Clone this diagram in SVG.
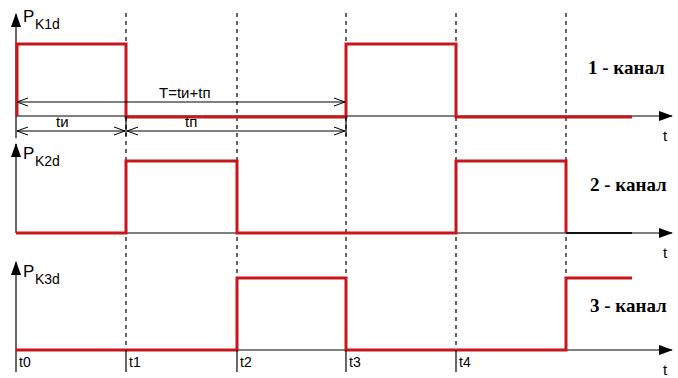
<svg xmlns="http://www.w3.org/2000/svg" width="678" height="378" viewBox="0 0 678 378">
  <defs>
    <marker id="axisHead" markerWidth="14" markerHeight="10" refX="13" refY="5" orient="auto" markerUnits="userSpaceOnUse">
      <path d="M0,0 L14,5 L0,10 Z" fill="#000"/>
    </marker>
    <marker id="openHead" markerWidth="12" markerHeight="10" refX="11" refY="5" orient="auto-start-reverse" markerUnits="userSpaceOnUse">
      <path d="M0,1 L11,5 L0,9" fill="none" stroke="#000" stroke-width="1"/>
    </marker>
  </defs>
  <style>
    .axis { stroke: #000; stroke-width: 1.2; fill: none; }
    .grid { stroke: #000; stroke-width: 1.2; stroke-dasharray: 4 4; fill: none; }
    .tick { stroke: #000; stroke-width: 1.2; }
    .dim { stroke: #000; stroke-width: 1; fill: none; }
    .sig { stroke: #c8161d; stroke-width: 3; fill: none; stroke-linejoin: miter; }
    .lbl { font-family: "Liberation Sans", Arial, sans-serif; font-size: 15px; fill: #000; }
    .p { font-family: "Liberation Sans", Arial, sans-serif; font-size: 17px; fill: #000; }
    .sub { font-family: "Liberation Sans", Arial, sans-serif; font-size: 14px; fill: #000; }
    .tl { font-family: "Liberation Sans", Arial, sans-serif; font-size: 14px; fill: #000; }
    .ch { font-family: "Liberation Serif", "Times New Roman", serif; font-size: 19px; font-weight: bold; fill: #000; }
  </style>

  <rect width="678" height="378" fill="#fff"/>

  <!-- time grid -->
  <g id="grid">
    <line class="grid" x1="126" y1="13" x2="126" y2="350"/>
    <line class="grid" x1="237" y1="13" x2="237" y2="350"/>
    <line class="grid" x1="346" y1="13" x2="346" y2="350"/>
    <line class="grid" x1="456" y1="13" x2="456" y2="350" stroke-dasharray="2 2"/>
    <line class="grid" x1="566" y1="13" x2="566" y2="350"/>
  </g>

  <!-- channel 1 -->
  <g id="channel1">
    <line class="axis" x1="16" y1="138" x2="16" y2="14" marker-end="url(#axisHead)"/>
    <line class="axis" x1="16" y1="116" x2="672" y2="116" marker-end="url(#axisHead)"/>
    <text class="p" x="23" y="22">P</text>
    <text class="sub" x="35" y="29">K1d</text>
    <polyline class="sig" points="17,116 17,44 126,44 126,117 346,117 346,44 456,44 456,117 632,117"/>
    <text class="lbl" x="663" y="141">t</text>
    <text class="ch" x="588" y="74">1 - канал</text>
  </g>

  <!-- channel 2 -->
  <g id="channel2">
    <line class="axis" x1="16" y1="233" x2="16" y2="144" marker-end="url(#axisHead)"/>
    <line class="axis" x1="16" y1="233" x2="672" y2="233" marker-end="url(#axisHead)"/>
    <text class="p" x="23" y="159">P</text>
    <text class="sub" x="35" y="166">K2d</text>
    <polyline class="sig" points="16,233 126,233 126,161 237,161 237,233 456,233 456,161 566,161 566,233"/>
    <line x1="566" y1="233" x2="632" y2="233" stroke="#111" stroke-width="2.2"/>
    <text class="lbl" x="663" y="258">t</text>
    <text class="ch" x="590" y="191">2 - канал</text>
  </g>

  <!-- channel 3 -->
  <g id="channel3">
    <line class="axis" x1="16" y1="372" x2="16" y2="262" marker-end="url(#axisHead)"/>
    <line class="axis" x1="16" y1="350" x2="672" y2="350" marker-end="url(#axisHead)"/>
    <text class="p" x="23" y="277">P</text>
    <text class="sub" x="35" y="284">K3d</text>
    <polyline class="sig" points="16,350 237,350 237,278 346,278 346,350 566,350 566,278 632,278"/>
    <text class="lbl" x="663" y="375">t</text>
    <text class="ch" x="590" y="312">3 - канал</text>
  </g>

  <!-- time marks -->
  <g id="timeMarks">
    <line class="tick" x1="126" y1="350" x2="126" y2="372"/>
    <line class="tick" x1="237" y1="350" x2="237" y2="372"/>
    <line class="tick" x1="346" y1="350" x2="346" y2="372"/>
    <line class="tick" x1="456" y1="350" x2="456" y2="372"/>
    <text class="tl" x="19" y="367">t0</text>
    <text class="tl" x="129" y="367">t1</text>
    <text class="tl" x="240" y="367">t2</text>
    <text class="tl" x="349" y="367">t3</text>
    <text class="tl" x="459" y="367">t4</text>
  </g>

  <!-- period dimensions -->
  <g id="dimensions">
    <line class="tick" x1="126" y1="116" x2="126" y2="136"/>
    <line class="tick" x1="346" y1="116" x2="346" y2="136"/>
    <line class="dim" x1="17" y1="102" x2="345" y2="102" marker-start="url(#openHead)" marker-end="url(#openHead)"/>
    <line class="dim" x1="17" y1="131" x2="125" y2="131" marker-start="url(#openHead)" marker-end="url(#openHead)"/>
    <line class="dim" x1="127" y1="131" x2="345" y2="131" marker-start="url(#openHead)" marker-end="url(#openHead)"/>
    <text class="lbl" x="159" y="98">T=tи+tп</text>
    <text class="lbl" x="56" y="127">tи</text>
    <text class="lbl" x="185" y="127">tп</text>
  </g>
</svg>
